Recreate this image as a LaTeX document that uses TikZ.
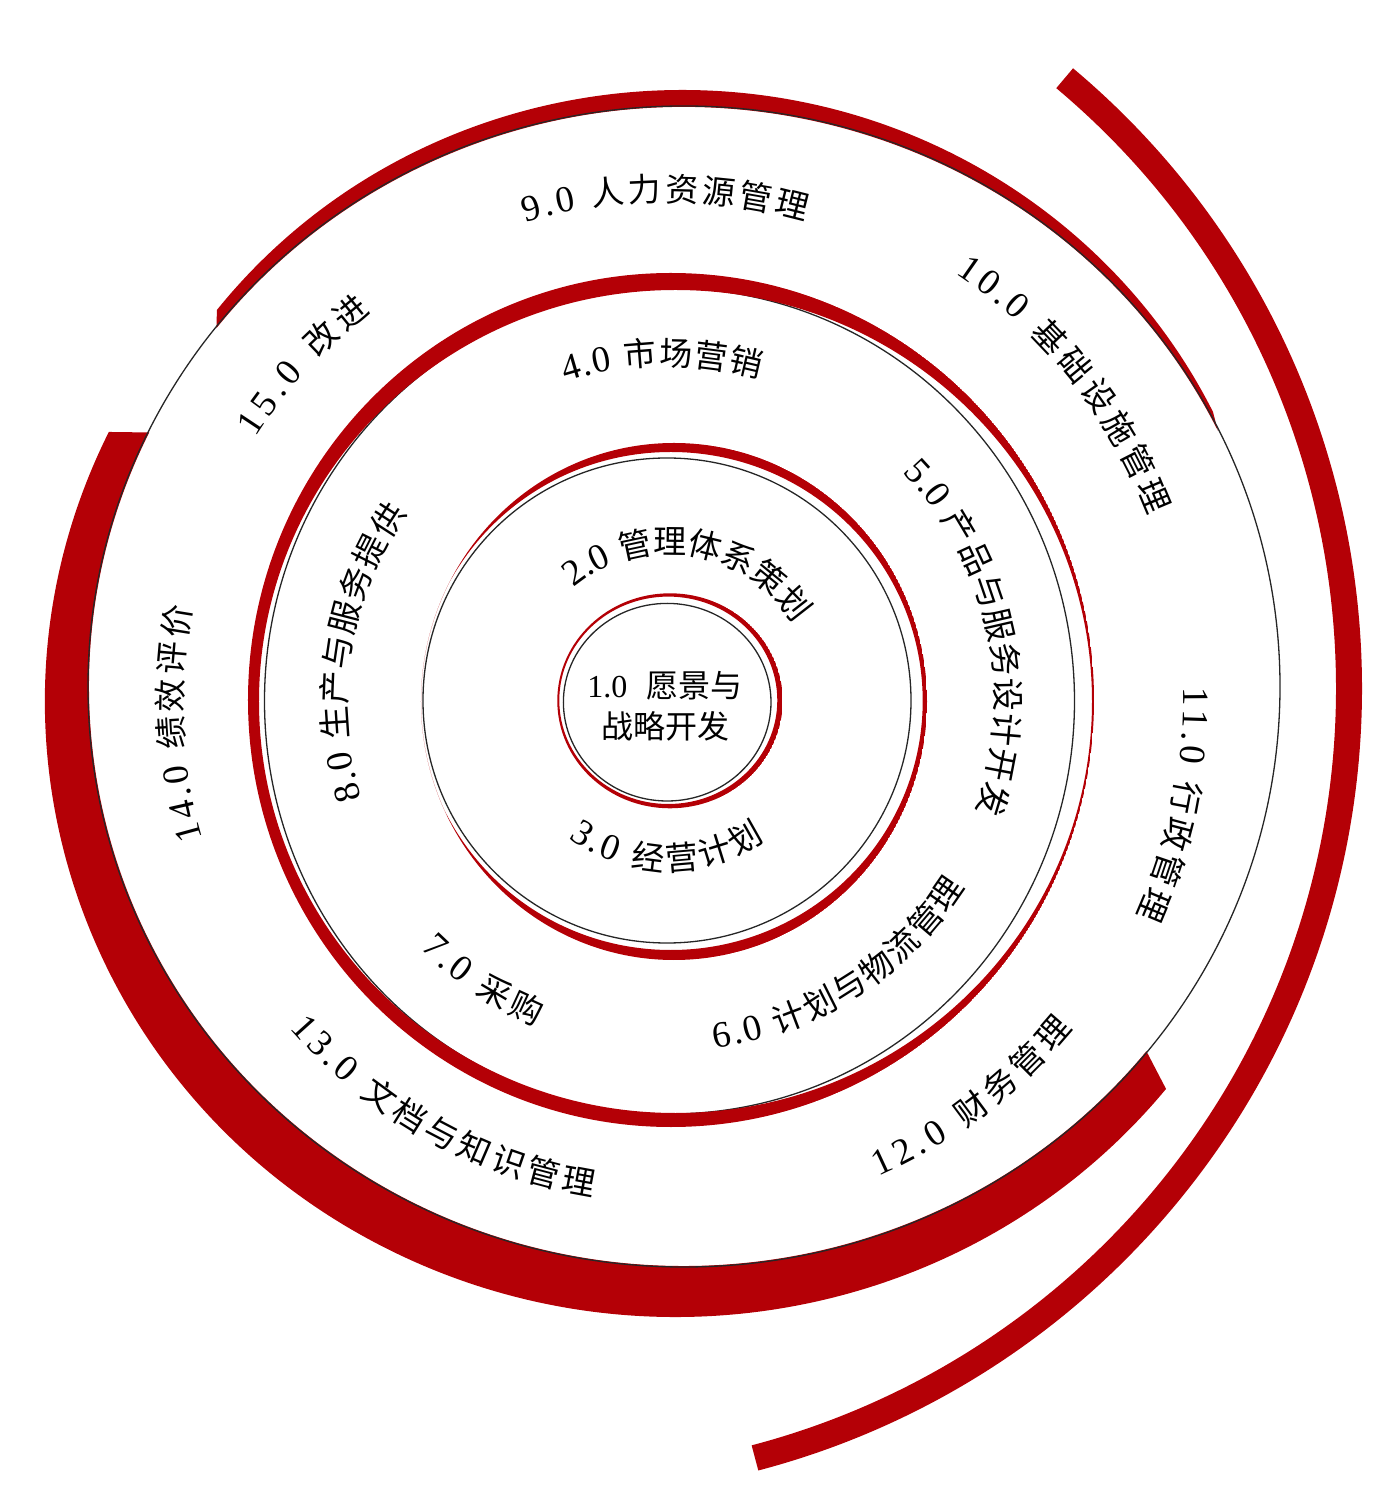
\documentclass[tikz,border=0pt]{standalone}
\usepackage{fontspec}
\usetikzlibrary{decorations.text}
\newfontfamily\cjk{Noto Sans CJK SC}
\newfontfamily\numfont{Liberation Serif}
\definecolor{ringred}{RGB}{180,0,6}
\newcommand{\lbl}{\fontsize{33}{40}\selectfont}
\newcommand{\lblnum}{\fontsize{37}{40}\selectfont\numfont}
\tikzset{
  ringline/.style={draw=black!85, line width=1.3},
  ringlabel/.style={decorate, decoration={text along path, text align=fit to path, text={#1}}},
  corelabel/.style={align=center, inner sep=0pt, font=\fontsize{32}{41}\selectfont},
}
\begin{document}
\begin{tikzpicture}[x=1pt, y=1pt]
    \useasboundingbox (-668,-810) rectangle (728,701);
    \coordinate (O) at (0,0);
    % ring centres
    \coordinate (c4) at (16,14.5);
    \coordinate (c4t) at (14,34.7);
    \coordinate (c4b) at (7.8,-0.7);
    \coordinate (c3) at (1.5,0);
    \coordinate (c3o) at (3,1);
    \coordinate (c3i) at (7.5,-0.5);
    \coordinate (c2) at (-1,0.5);
    \coordinate (c2o) at (6,-0.5);
    \coordinate (c2i) at (2.85,0);
    \coordinate (c1) at (-0.8,-1.2);
    \coordinate (c1o) at (2,0.2);
    \coordinate (c1i) at (0.3,0.7);
    \coordinate (c5) at (-115,13);
    % outer ring
    \fill[ringred] ([shift={(141.8:591.8 and 576.3)}]c4t) arc[start angle=141.8, end angle=26.2, x radius=591.8, y radius=576.3]
        -- ([shift={(26.2:595 and 579.5)}]c4) arc[start angle=26.2, end angle=141.8, x radius=595, y radius=579.5] -- cycle;
    \fill[ringred] ([shift={(154:630.8 and 615.3)}]c4b) arc[start angle=154, end angle=321, x radius=630.8, y radius=615.3]
        -- ([shift={(321:595 and 579.5)}]c4) arc[start angle=321, end angle=154, x radius=595, y radius=579.5] -- cycle;
    \draw[ringline] (c4) ellipse[x radius=596, y radius=580.5];
    \draw[ringred, line width=26] ([shift={(50:796)}]c5) arc[start angle=50, end angle=-75.3, radius=796];
    % third ring
    \draw[ringline] (c3) ellipse[x radius=405, y radius=413];
    \begin{scope}
        \clip (c3o) ellipse[x radius=423, y radius=427];
        \fill[ringred, even odd rule] (c3o) ellipse[x radius=423, y radius=427] (c3i) ellipse[x radius=416.5, y radius=411.5];
    \end{scope}
    % second ring
    \draw[ringline] (c2) ellipse[x radius=244, y radius=242.5];
    \begin{scope}
        \clip (c2o) ellipse[x radius=253, y radius=258.5];
        \fill[ringred, even odd rule] (c2o) ellipse[x radius=253, y radius=258.5] (c2i) ellipse[x radius=251.85, y radius=249];
    \end{scope}
    % inner ring
    \draw[ringline] (c1) ellipse[x radius=103.8, y radius=98.8];
    \begin{scope}
        \clip (c1o) ellipse[x radius=112.7, y radius=107.5];
        \fill[ringred, even odd rule] (c1o) ellipse[x radius=112.7, y radius=107.5] (c1i) ellipse[x radius=109, y radius=103.7];
    \end{scope}
    \node[corelabel] (core) at (-3,-5) {{\numfont 1.0}~~{\cjk 愿景与}\\{\cjk 战略开发}};
    % labels on the second ring
    \path[ringlabel={|\lblnum|2.0 |\lbl\cjk|管理体系策划}] (130:147.5) arc[start angle=130, end angle=33, radius=147.5];
    \path[ringlabel={|\lblnum|3.0 |\lbl\cjk|经营计划}] (234:169.5) arc[start angle=234, end angle=305, radius=169.5];
    % labels on the third ring
    \path[ringlabel={|\lblnum|4.0 |\lbl\cjk|市场营销}] (107.8:335.5) arc[start angle=107.8, end angle=74.1, radius=335.5];
    \path[ringlabel={|\lblnum|5.0 |\lbl\cjk|产品与服务设计开发}] (44.2:327.5) arc[start angle=44.2, end angle=-19.7, radius=327.5];
    \path[ringlabel={|\lblnum|6.0 |\lbl\cjk|计划与物流管理}] (277.7:350.5) arc[start angle=277.7, end angle=328, radius=350.5];
    \path[ringlabel={|\lblnum|7.0 |\lbl\cjk|采购}] (225:350.5) arc[start angle=225, end angle=247.9, radius=350.5];
    \path[ringlabel={|\lblnum|8.0 |\lbl\cjk|生产与服务提供}] (197.6:321.5) arc[start angle=197.6, end angle=144.2, radius=321.5];
    % labels on the outer ring
    \path[ringlabel={|\lblnum|9.0 |\lbl\cjk|人力资源管理}] (106.6:499.5) arc[start angle=106.6, end angle=74, radius=499.5];
    \path[ringlabel={|\lblnum|10.0 |\lbl\cjk|基础设施管理}] (56.1:515.5) arc[start angle=56.1, end angle=21, radius=515.5];
    \path[ringlabel={|\lblnum|11.0 |\lbl\cjk|行政管理}] (1.5:515.5) arc[start angle=1.5, end angle=-24.6, radius=515.5];
    \path[ringlabel={|\lblnum|12.0 |\lbl\cjk|财务管理}] (-66.1:520.5) arc[start angle=-66.1, end angle=-39, radius=520.5];
    \path[ringlabel={|\lblnum|13.0 |\lbl\cjk|文档与知识管理}] (220.9:500.5) arc[start angle=220.9, end angle=261.4, radius=500.5];
    \path[ringlabel={|\lblnum|14.0 |\lbl\cjk|绩效评价}] (196.4:485.5) arc[start angle=196.4, end angle=168.8, radius=485.5];
    \path[ringlabel={|\lblnum|15.0 |\lbl\cjk|改进}] (147.5:489.5) arc[start angle=147.5, end angle=127.3, radius=489.5];
\end{tikzpicture}
\end{document}
